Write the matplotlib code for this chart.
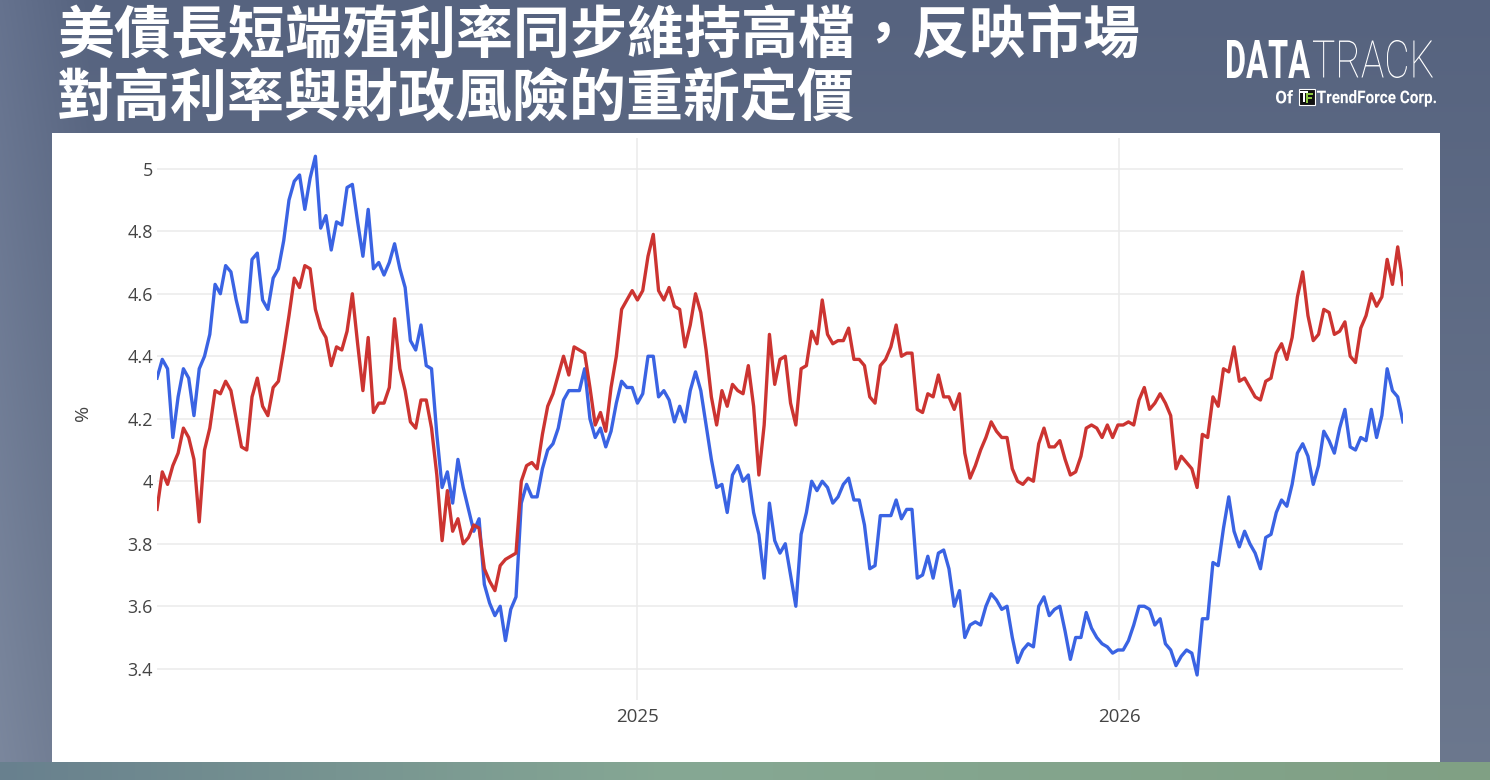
import numpy as np
import pandas as pd
import matplotlib
matplotlib.use('Agg')
import matplotlib.pyplot as plt
from matplotlib.patches import Rectangle, PathPatch
from matplotlib.textpath import TextPath
from matplotlib.font_manager import FontProperties
from matplotlib.transforms import Affine2D, IdentityTransform

W, H = 1490, 780

# Title (two lines) and axis text
title_lines = ['美債長短端殖利率同步維持高檔，反映市場', '對高利率與財政風險的重新定價']
y_label = '%'

# Sampled every 4 days from early Jan 2024
dates = pd.date_range('2024-01-03', periods=237, freq='4D')

# blue series (shorter tenor)
blue = [
    4.33, 4.39, 4.36, 4.14, 4.27, 4.36, 4.33, 4.21, 4.36, 4.40,
    4.47, 4.63, 4.60, 4.69, 4.67, 4.58, 4.51, 4.51, 4.71, 4.73,
    4.58, 4.55, 4.65, 4.68, 4.77, 4.90, 4.96, 4.98, 4.87, 4.97,
    5.04, 4.81, 4.85, 4.74, 4.83, 4.82, 4.94, 4.95, 4.83, 4.72,
    4.87, 4.68, 4.70, 4.66, 4.70, 4.76, 4.68, 4.62, 4.45, 4.42,
    4.50, 4.37, 4.36, 4.15, 3.98, 4.03, 3.93, 4.07, 3.98, 3.91,
    3.84, 3.88, 3.67, 3.61, 3.57, 3.60, 3.49, 3.59, 3.63, 3.93,
    3.99, 3.95, 3.95, 4.04, 4.10, 4.12, 4.17, 4.26, 4.29, 4.29,
    4.29, 4.36, 4.20, 4.14, 4.17, 4.11, 4.16, 4.25, 4.32, 4.30,
    4.30, 4.25, 4.28, 4.40, 4.40, 4.27, 4.29, 4.26, 4.19, 4.24,
    4.19, 4.29, 4.35, 4.29, 4.18, 4.07, 3.98, 3.99, 3.90, 4.02,
    4.05, 4.00, 4.02, 3.90, 3.83, 3.69, 3.93, 3.81, 3.77, 3.80,
    3.70, 3.60, 3.83, 3.90, 4.00, 3.97, 4.00, 3.98, 3.93, 3.95,
    3.99, 4.01, 3.94, 3.94, 3.86, 3.72, 3.73, 3.89, 3.89, 3.89,
    3.94, 3.88, 3.91, 3.91, 3.69, 3.70, 3.76, 3.69, 3.77, 3.78,
    3.72, 3.60, 3.65, 3.50, 3.54, 3.55, 3.54, 3.60, 3.64, 3.62,
    3.59, 3.60, 3.50, 3.42, 3.46, 3.48, 3.47, 3.60, 3.63, 3.57,
    3.59, 3.60, 3.52, 3.43, 3.50, 3.50, 3.58, 3.53, 3.50, 3.48,
    3.47, 3.45, 3.46, 3.46, 3.49, 3.54, 3.60, 3.60, 3.59, 3.54,
    3.56, 3.48, 3.46, 3.41, 3.44, 3.46, 3.45, 3.38, 3.56, 3.56,
    3.74, 3.73, 3.85, 3.95, 3.84, 3.79, 3.84, 3.80, 3.77, 3.72,
    3.82, 3.83, 3.90, 3.94, 3.92, 3.99, 4.09, 4.12, 4.08, 3.99,
    4.05, 4.16, 4.13, 4.09, 4.17, 4.23, 4.11, 4.10, 4.14, 4.13,
    4.23, 4.14, 4.21, 4.36, 4.29, 4.27, 4.19,
]

# red series (longer tenor)
red = [
    3.91, 4.03, 3.99, 4.05, 4.09, 4.17, 4.14, 4.07, 3.87, 4.10,
    4.17, 4.29, 4.28, 4.32, 4.29, 4.20, 4.11, 4.10, 4.27, 4.33,
    4.24, 4.21, 4.30, 4.32, 4.42, 4.53, 4.65, 4.62, 4.69, 4.68,
    4.55, 4.49, 4.46, 4.37, 4.43, 4.42, 4.48, 4.60, 4.44, 4.29,
    4.46, 4.22, 4.25, 4.25, 4.30, 4.52, 4.36, 4.29, 4.19, 4.17,
    4.26, 4.26, 4.17, 4.02, 3.81, 3.97, 3.84, 3.88, 3.80, 3.82,
    3.86, 3.85, 3.72, 3.68, 3.65, 3.73, 3.75, 3.76, 3.77, 4.00,
    4.05, 4.06, 4.04, 4.15, 4.24, 4.28, 4.34, 4.40, 4.34, 4.43,
    4.42, 4.41, 4.30, 4.18, 4.22, 4.16, 4.30, 4.40, 4.55, 4.58,
    4.61, 4.58, 4.61, 4.72, 4.79, 4.61, 4.58, 4.62, 4.56, 4.55,
    4.43, 4.50, 4.60, 4.54, 4.42, 4.27, 4.18, 4.29, 4.24, 4.31,
    4.29, 4.28, 4.37, 4.24, 4.02, 4.18, 4.47, 4.31, 4.39, 4.40,
    4.25, 4.18, 4.36, 4.37, 4.48, 4.44, 4.58, 4.47, 4.44, 4.45,
    4.45, 4.49, 4.39, 4.39, 4.37, 4.27, 4.25, 4.37, 4.39, 4.43,
    4.50, 4.40, 4.41, 4.41, 4.23, 4.22, 4.28, 4.27, 4.34, 4.27,
    4.27, 4.23, 4.28, 4.09, 4.01, 4.05, 4.10, 4.14, 4.19, 4.16,
    4.14, 4.14, 4.04, 4.00, 3.99, 4.01, 4.00, 4.12, 4.17, 4.11,
    4.11, 4.13, 4.07, 4.02, 4.03, 4.08, 4.17, 4.18, 4.17, 4.14,
    4.18, 4.14, 4.18, 4.18, 4.19, 4.18, 4.26, 4.30, 4.23, 4.25,
    4.28, 4.25, 4.21, 4.04, 4.08, 4.06, 4.04, 3.98, 4.15, 4.14,
    4.27, 4.24, 4.36, 4.35, 4.43, 4.32, 4.33, 4.30, 4.27, 4.26,
    4.32, 4.33, 4.41, 4.44, 4.39, 4.46, 4.59, 4.67, 4.53, 4.45,
    4.47, 4.55, 4.54, 4.47, 4.48, 4.51, 4.40, 4.38, 4.49, 4.53,
    4.60, 4.56, 4.59, 4.71, 4.63, 4.75, 4.63,
]

y_ticks = [3.4, 3.6, 3.8, 4.0, 4.2, 4.4, 4.6, 4.8, 5.0]
y_tick_labels = ['3.4', '3.6', '3.8', '4', '4.2', '4.4', '4.6', '4.8', '5']
x_ticks = pd.to_datetime(['2025-01-01', '2026-01-01'])
x_tick_labels = ['2025', '2026']

fig = plt.figure(figsize=(W / 100, H / 100), dpi=100)

# background: slate blue-grey, greenish band along the bottom
yy = np.linspace(0, 1, H)[:, None]
xx = np.linspace(0, 1, W)[None, :]
top_c = np.array([86, 99, 127]) / 255
bot_c = np.array([108, 120, 142]) / 255
img = top_c + (bot_c - top_c) * yy[..., None] + 0 * xx[..., None]
left_glow = np.clip(1 - xx / 0.06, 0, 1)[..., None] * 0.06
img = np.clip(img + left_glow, 0, 1)
band = yy[:, 0] > 762 / H
green_l = np.array([104, 128, 142]) / 255
green_m = np.array([134, 168, 148]) / 255
green_r = np.array([128, 160, 132]) / 255
xs = xx[0]
strip = np.where((xs < 0.45)[:, None],
                 green_l + (green_m - green_l) * (xs / 0.45)[:, None],
                 green_m + (green_r - green_m) * ((xs - 0.45) / 0.55)[:, None])
img[band] = strip[None, :, :]

bg = fig.add_axes([0, 0, 1, 1])
bg.imshow(img, aspect='auto', extent=[0, 1, 0, 1], origin='upper', zorder=0)
bg.add_patch(Rectangle((52 / W, 1 - 762 / H), (1440 - 52) / W, (762 - 133) / H,
                       transform=bg.transAxes, facecolor='white', edgecolor='none', zorder=1))
bg.set_xlim(0, 1)
bg.set_ylim(0, 1)
bg.axis('off')

# title
cjk = ['Noto Sans CJK TC', 'DejaVu Sans']
fig.text(57 / W, 1 - 35 / H, title_lines[0], fontsize=41, fontweight='bold',
         color='white', family=cjk, ha='left', va='center')
fig.text(57 / W, 1 - 99 / H, title_lines[1], fontsize=41, fontweight='bold',
         color='white', family=cjk, ha='left', va='center')


def put_text_box(s, x0, y0, x1, y1, prop, color='white'):
    # draw a string stretched to fill a pixel box (top-left origin)
    tp = TextPath((0, 0), s, size=100, prop=prop)
    ext = tp.get_extents()
    sx = (x1 - x0) / ext.width
    sy = (y1 - y0) / ext.height
    tr = Affine2D().translate(-ext.x0, -ext.y0).scale(sx, sy).translate(x0, H - y1)
    p = PathPatch(tr.transform_path(tp), facecolor=color, edgecolor='none',
                  transform=IdentityTransform())
    fig.add_artist(p)


bold_fp = FontProperties(family='Roboto', weight='bold')
thin_fp = FontProperties(family='Roboto', weight='light')
put_text_box('DATA', 1227, 40, 1310, 78, bold_fp)
put_text_box('TRACK', 1313, 40, 1433, 78, thin_fp)
put_text_box('Of', 1276, 90, 1293, 103.5, bold_fp)
put_text_box('TrendForce Corp.', 1317, 90, 1436, 106.7, bold_fp)
fig.add_artist(Rectangle((1299, H - 105), 16, 16, transform=IdentityTransform(),
                         facecolor='#111111', edgecolor='white', linewidth=0.8))
put_text_box('F', 1306, 93, 1313, 103, bold_fp, color='#8cc63f')
put_text_box('T', 1300, 91, 1308, 102, bold_fp, color='white')

# main chart
ax = fig.add_axes([157 / W, 1 - 700 / H, (1403 - 157) / W, 562.5 / H])
ax.set_facecolor('white')
ax.plot(dates, blue, color='#3a63e3', linewidth=2.4, solid_joinstyle='round', zorder=3)
ax.plot(dates, red, color='#cc3431', linewidth=2.4, solid_joinstyle='round', zorder=4)

ax.set_xlim(dates[0], dates[-1])
ax.set_ylim(3.3, 5.1)
ax.set_yticks(y_ticks)
ax.set_yticklabels(y_tick_labels, fontsize=13, color='#444444', family='Open Sans')
ax.set_xticks(x_ticks)
ax.set_xticklabels(x_tick_labels, fontsize=13.5, color='#444444', family='Open Sans')
ax.tick_params(axis='y', length=0, pad=3)
ax.tick_params(axis='x', length=0, pad=6)
ax.grid(True, color='#ebebeb', linewidth=1.1)
ax.set_axisbelow(True)
for s in ax.spines.values():
    s.set_visible(False)

fig.text(83 / W, 1 - 413 / H, y_label, rotation=90, fontsize=14, color='#444444',
         family='Open Sans', ha='center', va='center')

fig.savefig('out.png', dpi=100)
